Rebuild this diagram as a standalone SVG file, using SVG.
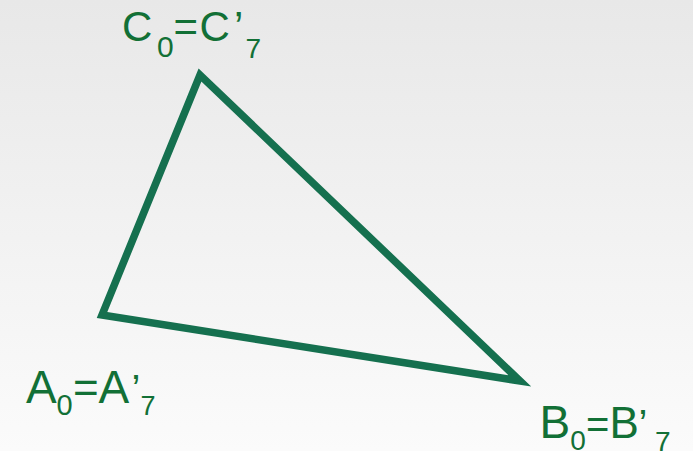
<svg xmlns="http://www.w3.org/2000/svg" width="693" height="451" viewBox="0 0 693 451">
  <defs>
    <linearGradient id="bg" x1="0" y1="0" x2="0" y2="1">
      <stop offset="0" stop-color="#e8e8e8"/>
      <stop offset="1" stop-color="#fbfbfb"/>
    </linearGradient>
    <style>
      .lbl { font-family: "Liberation Sans", Arial, sans-serif; fill: #127036; }
      .tri { fill: none; stroke: #15704f; stroke-width: 7.5; stroke-linejoin: miter; stroke-miterlimit: 10; }
    </style>
  </defs>
  <rect width="693" height="451" fill="url(#bg)"/>
  <g id="connectors">
    <polygon class="tri" points="200,75 102,315 520,381"/>
  </g>
  <g id="node-C">
    <text class="lbl"><tspan x="122" y="41" font-size="42">C</tspan><tspan x="157" y="57" font-size="30">0</tspan><tspan x="173.5" y="41" font-size="42">=</tspan><tspan x="199.5" y="41" font-size="42">C</tspan><tspan x="234" y="41" font-size="42">’</tspan><tspan x="245.5" y="58" font-size="28">7</tspan></text>
  </g>
  <g id="node-A">
    <text class="lbl"><tspan x="26" y="403" font-size="46">A</tspan><tspan x="56.5" y="415" font-size="29">0</tspan><tspan x="73" y="403" font-size="44">=</tspan><tspan x="98.5" y="403" font-size="46">A</tspan><tspan x="131.5" y="403" font-size="40">’</tspan><tspan x="140.5" y="415" font-size="27">7</tspan></text>
  </g>
  <g id="node-B">
    <text class="lbl"><tspan x="539.5" y="438" font-size="46">B</tspan><tspan x="570.2" y="449.5" font-size="28">0</tspan><tspan x="586" y="438" font-size="40">=</tspan><tspan x="609.5" y="438" font-size="44">B</tspan><tspan x="638.5" y="438" font-size="40">’</tspan><tspan x="655" y="450.5" font-size="28">7</tspan></text>
  </g>
</svg>
